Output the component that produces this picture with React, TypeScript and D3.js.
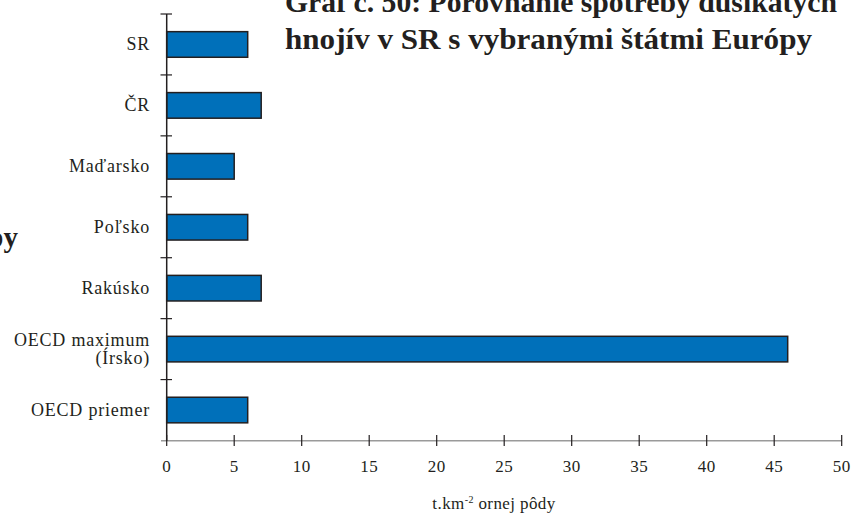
import React from "react";
import * as d3 from "d3";

const categories = ["SR", "ČR", "Maďarsko", "Poľsko", "Rakúsko", "OECD maximum\n(Írsko)", "OECD priemer"];
const values = [6, 7, 5, 6, 7, 46, 6];
const xTicks = [0, 5, 10, 15, 20, 25, 30, 35, 40, 45, 50];
const titleLines = ["Graf č. 50: Porovnanie spotreby dusíkatých", "hnojív v SR s vybranými štátmi Európy"];
const xTitle = "t.km";
const xTitleSup = "-2";
const xTitleRest = " ornej pôdy";

export default function App() {
  const W = 853, H = 516;
  const x = d3.scaleLinear().domain([0, 50]).range([166.7, 841.7]);
  const y = d3.scaleBand<string>().domain(categories).range([14, 440.5]).paddingInner(0.58).paddingOuter(0.29);
  const step = y.step();
  const bounds = d3.range(categories.length + 1).map((i) => 14 + i * step);
  const serif = "'Liberation Serif', 'Times New Roman', serif";
  return (
    <svg width={W} height={H} style={{ position: "absolute", left: 0, top: 0 }}>
      <rect width={W} height={H} fill="#fff" />
      {/* title */}
      <text x={285} y={12} fontFamily={serif} fontSize={29} fontWeight="bold" fill="#231f20" textLength={552} lengthAdjust="spacingAndGlyphs">{titleLines[0]}</text>
      <text x={285} y={49} fontFamily={serif} fontSize={29} fontWeight="bold" fill="#231f20" textLength={527} lengthAdjust="spacingAndGlyphs">{titleLines[1]}</text>
      <text x={18} y={247} fontFamily={serif} fontSize={29} fontWeight="bold" fill="#231f20" textAnchor="end">Európy</text>
      {/* x axis */}
      <line x1={161} x2={x(50)} y1={440.7} y2={440.7} stroke="#9a9a9a" strokeWidth={1.5} />
      {xTicks.map((t) => (
        <g key={t}>
          <line x1={x(t)} x2={x(t)} y1={435} y2={446} stroke="#231f20" strokeWidth={1.2} />
          <text x={x(t)} y={472} fontFamily={serif} fontSize={17} textAnchor="middle" fill="#231f20" letterSpacing={0.5}>{t}</text>
        </g>
      ))}
      <text x={494} y={509} fontFamily={serif} fontSize={17} textAnchor="middle" fill="#231f20" letterSpacing={0.4}>
        {xTitle}<tspan fontSize={10} dy={-6}>{xTitleSup}</tspan><tspan dy={6}>{xTitleRest}</tspan>
      </text>
      {/* bars */}
      {categories.map((c, i) => (
        <rect key={c} x={x(0)} y={y(c)!} width={x(values[i]) - x(0)} height={y.bandwidth()} fill="#0070ba" stroke="#231f20" strokeWidth={1.5} />
      ))}
      {/* y axis */}
      <line x1={x(0)} x2={x(0)} y1={14} y2={440.7} stroke="#231f20" strokeWidth={1.5} />
      {bounds.slice(0, categories.length).map((b, i) => (
        <line key={i} x1={160.5} x2={172} y1={b} y2={b} stroke="#231f20" strokeWidth={1.2} />
      ))}
      {categories.map((c) => {
        const lines = c.split("\n");
        const cy = y(c)! + y.bandwidth() / 2;
        return (
          <text key={c} x={150} y={cy + 6 - (lines.length - 1) * 9} fontFamily={serif} fontSize={18} textAnchor="end" fill="#231f20" letterSpacing={0.8}>
            {lines.map((l, j) => (
              <tspan key={j} x={150} dy={j === 0 ? 0 : 18}>{l}</tspan>
            ))}
          </text>
        );
      })}
    </svg>
  );
}
